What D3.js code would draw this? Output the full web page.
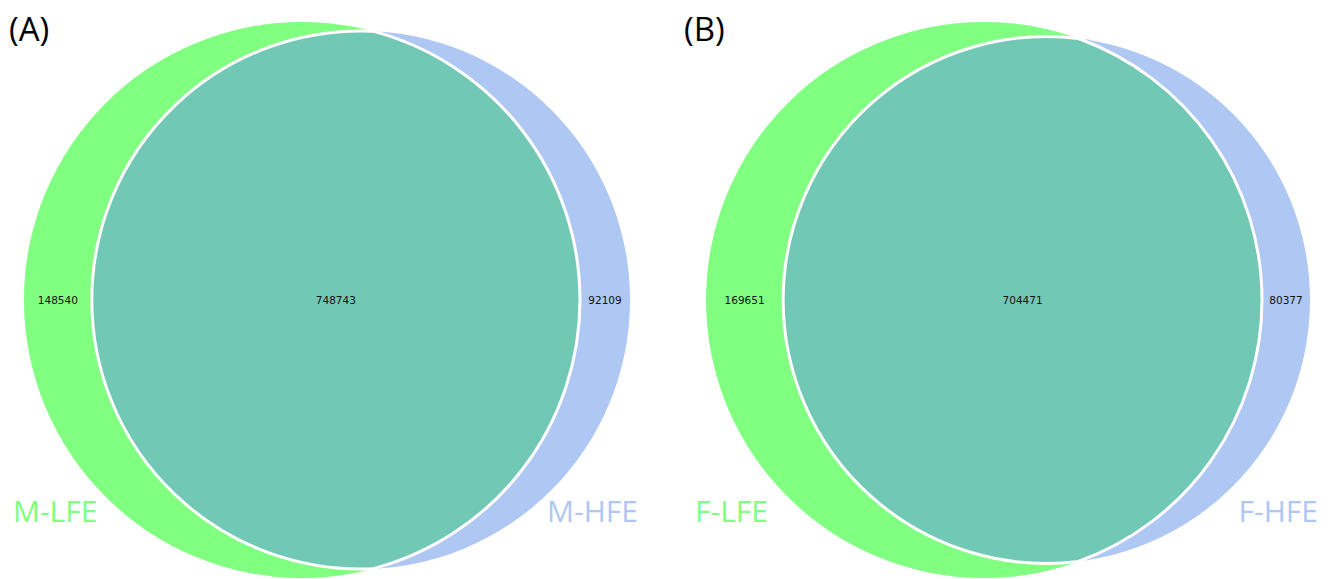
<!DOCTYPE html>
<html>
<head>
<meta charset="utf-8">
<script src="https://cdn.jsdelivr.net/npm/d3@7"></script>
<style>
  html, body { margin: 0; padding: 0; background: #fff; }
  svg { display: block; }
</style>
</head>
<body>
<svg id="chart" width="1337" height="579"></svg>
<script>
// ---- data ----
const panelTitles = ["(A)", "(B)"];
const firstSetNames = ["M-LFE", "F-LFE"];
const secondSetNames = ["M-HFE", "F-HFE"];
const onlyFirst = [148540, 169651];
const overlap = [748743, 704471];
const onlySecond = [92109, 80377];

// ---- layout / style ----
const W = 1337, H = 579;
const panelCenterX = [327, 1008];
const centerY = 300;
const maxRadius = 278;
const titleX = [9, 684];
const colFirst = "#80ff80";
const colSecond = "#afc7f3";
const colBoth = "#71c9b5";

const svg = d3.select("#chart");

function lensArea(r1, r2, d) {
  if (d >= r1 + r2) return 0;
  if (d <= Math.abs(r1 - r2)) return Math.PI * Math.min(r1, r2) ** 2;
  const a1 = Math.acos((d * d + r1 * r1 - r2 * r2) / (2 * d * r1));
  const a2 = Math.acos((d * d + r2 * r2 - r1 * r1) / (2 * d * r2));
  const k = 0.5 * Math.sqrt((-d + r1 + r2) * (d + r1 - r2) * (d - r1 + r2) * (d + r1 + r2));
  return r1 * r1 * a1 + r2 * r2 * a2 - k;
}

panelTitles.forEach((title, i) => {
  const s1 = onlyFirst[i] + overlap[i];
  const s2 = onlySecond[i] + overlap[i];
  const rScale = d3.scaleSqrt().domain([0, Math.max(s1, s2)]).range([0, maxRadius]);
  const r1 = rScale(s1), r2 = rScale(s2);
  const target = Math.PI * rScale(overlap[i]) ** 2;
  // bisection on center distance so overlap area matches
  let lo = Math.abs(r1 - r2), hi = r1 + r2;
  for (let k = 0; k < 80; k++) {
    const mid = (lo + hi) / 2;
    if (lensArea(r1, r2, mid) > target) lo = mid; else hi = mid;
  }
  const d = (lo + hi) / 2;
  const width = r1 + d + r2;
  const c1x = panelCenterX[i] - width / 2 + r1;
  const c2x = c1x + d;
  const cy = centerY;

  const g = svg.append("g");

  g.append("circle").attr("cx", c1x).attr("cy", cy).attr("r", r1).attr("fill", colFirst);
  g.append("circle").attr("cx", c2x).attr("cy", cy).attr("r", r2).attr("fill", colSecond);

  // intersection lens
  const a = (d * d + r1 * r1 - r2 * r2) / (2 * d);
  const h = Math.sqrt(r1 * r1 - a * a);
  const px = c1x + a;
  const large1 = a < 0 ? 1 : 0;
  const large2 = (a - d) > 0 ? 1 : 0;
  const lens = `M${px},${cy - h} A${r1},${r1} 0 ${large1} 1 ${px},${cy + h} A${r2},${r2} 0 ${large2} 1 ${px},${cy - h} Z`;
  g.append("path").attr("d", lens).attr("fill", colBoth)
    .attr("stroke", "#fff").attr("stroke-width", 3);

  // counts
  const leftFirst = c1x - r1, leftSecond = c2x - r2, rightFirst = c1x + r1, rightSecond = c2x + r2;
  const counts = [
    { x: (leftFirst + leftSecond) / 2, v: onlyFirst[i] },
    { x: (leftSecond + rightFirst) / 2, v: overlap[i] },
    { x: (rightFirst + rightSecond) / 2, v: onlySecond[i] }
  ];
  g.selectAll("text.count").data(counts).join("text")
    .attr("class", "count")
    .attr("x", c => c.x).attr("y", cy + 4)
    .attr("text-anchor", "middle")
    .attr("font-family", "'DejaVu Sans', sans-serif")
    .attr("font-size", 10.5)
    .attr("fill", "#111")
    .text(c => c.v);

  // set labels
  g.append("text").attr("x", leftFirst - 11).attr("y", 522)
    .attr("font-family", "'Open Sans', sans-serif").attr("font-size", 30)
    .attr("fill", colFirst).text(firstSetNames[i]);
  g.append("text").attr("x", rightSecond + 8).attr("y", 522)
    .attr("text-anchor", "end")
    .attr("font-family", "'Open Sans', sans-serif").attr("font-size", 30)
    .attr("fill", colSecond).text(secondSetNames[i]);

  // panel title
  g.append("text").attr("x", titleX[i]).attr("y", 41)
    .attr("font-family", "'Open Sans', sans-serif").attr("font-size", 33)
    .attr("fill", "#000").text(title);
});
</script>
</body>
</html>
